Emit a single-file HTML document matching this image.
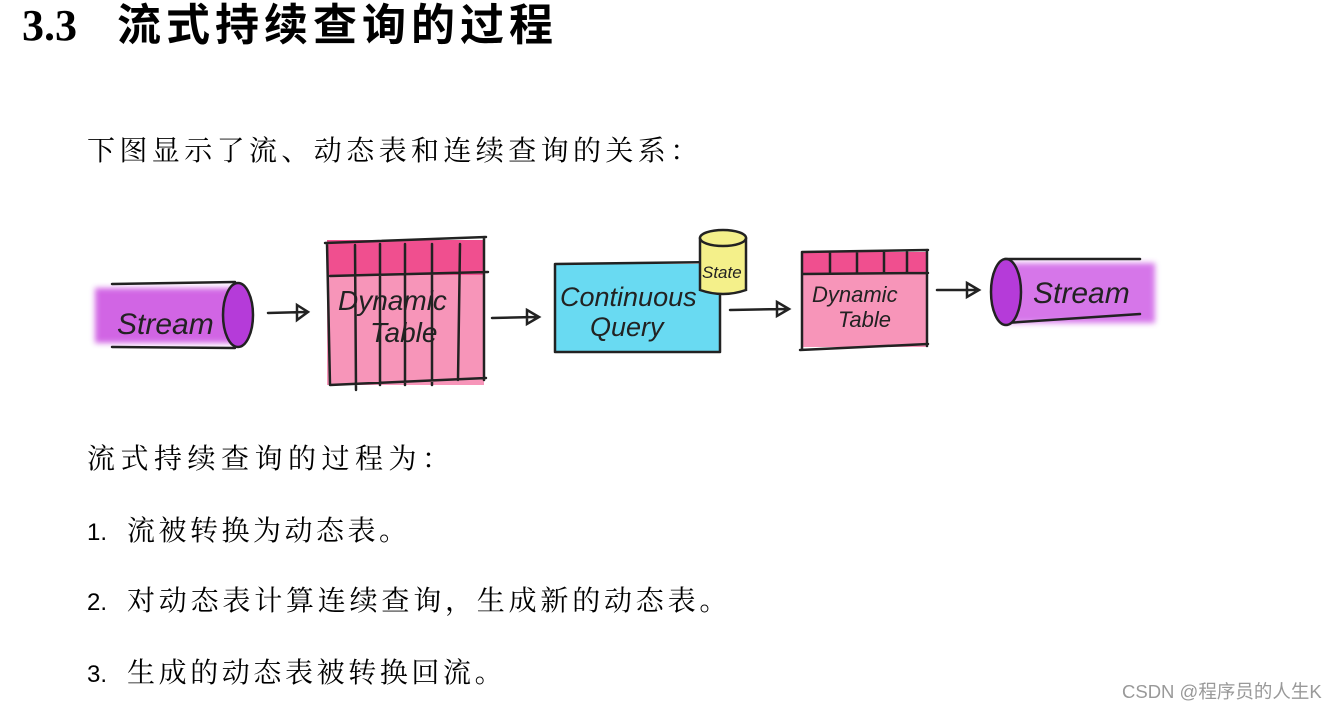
<!DOCTYPE html>
<html><head><meta charset="utf-8"><style>
body{margin:0;width:1341px;height:709px;background:#fff;position:relative;overflow:hidden;font-family:"Liberation Serif","Noto Serif CJK SC",serif;color:#000}
.t{position:absolute;white-space:nowrap}
</style></head><body>
<div class="t" style="left:22px;top:-4px;font-size:44px;font-weight:bold;line-height:60px">3.3<span style="position:absolute;left:95px;letter-spacing:5px;font-family:'Liberation Sans','Noto Sans CJK SC',sans-serif;font-size:44px">流式持续查询的过程</span></div>
<div class="t" style="left:87px;top:134px;font-size:28px;letter-spacing:4.4px;line-height:36px">下图显示了流、动态表和连续查询的关系：</div>
<div class="t" style="left:87px;top:442px;font-size:28px;letter-spacing:5.5px;line-height:36px">流式持续查询的过程为：</div>
<div class="t" style="left:87px;top:514px;font-size:28px;line-height:36px"><span style="font-family:'Liberation Sans',sans-serif;font-size:24px">1.</span><span style="position:absolute;left:40px;letter-spacing:3.5px">流被转换为动态表。</span></div>
<div class="t" style="left:87px;top:584px;font-size:28px;line-height:36px"><span style="font-family:'Liberation Sans',sans-serif;font-size:24px">2.</span><span style="position:absolute;left:40px;letter-spacing:3.8px">对动态表计算连续查询，生成新的动态表。</span></div>
<div class="t" style="left:87px;top:656px;font-size:28px;line-height:36px"><span style="font-family:'Liberation Sans',sans-serif;font-size:24px">3.</span><span style="position:absolute;left:40px;letter-spacing:3.6px">生成的动态表被转换回流。</span></div>
<div class="t" style="left:1122px;top:678px;font-size:18.5px;color:#999;font-family:'Liberation Sans','Noto Sans CJK SC',sans-serif">CSDN @程序员的人生K</div>

<svg width="1341" height="709" style="position:absolute;left:0;top:0" xmlns="http://www.w3.org/2000/svg">
<defs><filter id="b"><feGaussianBlur stdDeviation="3"/></filter></defs>
<g font-family="'Liberation Sans',sans-serif" fill="none" stroke="#222" stroke-width="2.5" stroke-linecap="round">
<rect x="95" y="288" width="145" height="55" fill="#c94ce0" stroke="none" filter="url(#b)" opacity="0.85"/>
<line x1="112" y1="284" x2="235" y2="282"/><line x1="112" y1="347" x2="235" y2="348"/>
<ellipse cx="238" cy="315" rx="15" ry="32" fill="#b53bd9"/>
<text x="117" y="334" font-size="30" fill="#222" stroke="none" font-style="italic">Stream</text>
<path d="M268 313 L305 312 M297 305 L308 312 L297 320 Z"/>
<rect x="327" y="240" width="157" height="145" fill="#f57aa8" stroke="none" opacity="0.8"/>
<rect x="327" y="240" width="157" height="35" fill="#ee3d85" stroke="none" opacity="0.8"/>
<path d="M325 243 L486 237 M330 276 L488 272 M330 385 L486 378 M327 243 L330 385 M484 237 L484 380 M355 245 L356 390 M380 244 L380 385 M405 244 L405 385 M432 244 L432 385 M460 244 L458 380"/>
<text x="338" y="310" font-size="28" fill="#222" stroke="none" font-style="italic">Dynamic</text>
<text x="370" y="342" font-size="28" fill="#222" stroke="none" font-style="italic">Table</text>
<path d="M492 318 L535 317 M527 310 L539 317 L527 324 Z"/>
<rect x="555" y="264" width="165" height="88" fill="#4fd3f0" stroke="none" opacity="0.85"/>
<path d="M555 264 L720 262 M555 264 L555 352 M555 352 L720 352 M720 290 L720 352"/>
<text x="560" y="306" font-size="27" fill="#222" stroke="none" font-style="italic">Continuous</text>
<text x="590" y="336" font-size="27" fill="#222" stroke="none" font-style="italic">Query</text>
<path d="M700 238 L700 290 Q723 298 746 290 L746 238" fill="#f4f08a"/>
<ellipse cx="723" cy="238" rx="23" ry="8" fill="#f4f08a"/>
<text x="702" y="278" font-size="17" fill="#222" stroke="none" font-style="italic">State</text>
<path d="M730 310 L785 309 M777 302 L789 309 L777 316 Z"/>
<rect x="802" y="252" width="125" height="95" fill="#f57aa8" stroke="none" opacity="0.8"/>
<rect x="802" y="252" width="125" height="22" fill="#ee3d85" stroke="none" opacity="0.8"/>
<path d="M802 252 L928 250 M802 274 L928 273 M800 350 L928 344 M802 252 L802 350 M927 250 L927 346 M830 252 L830 272 M857 252 L857 272 M884 252 L884 272 M907 252 L907 272"/>
<text x="812" y="302" font-size="22" fill="#222" stroke="none" font-style="italic">Dynamic</text>
<text x="838" y="327" font-size="22" fill="#222" stroke="none" font-style="italic">Table</text>
<path d="M937 290 L975 290 M967 283 L979 290 L967 297 Z"/>
<rect x="1005" y="263" width="150" height="60" fill="#cf5ee6" stroke="none" filter="url(#b)" opacity="0.85"/>
<line x1="1005" y1="259" x2="1140" y2="259"/><line x1="1005" y1="323" x2="1140" y2="314"/>
<ellipse cx="1006" cy="292" rx="15" ry="33" fill="#b53bd9"/>
<text x="1033" y="303" font-size="30" fill="#222" stroke="none" font-style="italic">Stream</text>
</g>
</svg>
</body></html>
